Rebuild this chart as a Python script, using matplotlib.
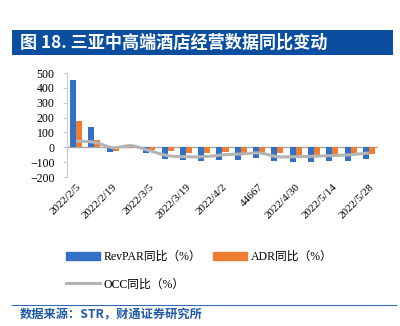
import numpy as np
import matplotlib.pyplot as plt
import matplotlib.transforms as mtransforms
from matplotlib.patches import Rectangle, Patch
from matplotlib.lines import Line2D
from matplotlib.path import Path
from matplotlib.patches import PathPatch

plt.rcParams['font.family'] = ['Liberation Serif', 'Noto Sans CJK SC']

# weekly data
labels = ['2022/2/5', '', '2022/2/19', '', '2022/3/5', '', '2022/3/19', '', '2022/4/2',
          '', '44667', '', '2022/4/30', '', '2022/5/14', '', '2022/5/28']
revpar = [450, 135, -30, 3, -40, -78, -85, -90, -85, -85, -74, -94, -100, -100, -90, -90, -78]
adr = [180, 50, -25, -5, -16, -27, -40, -38, -33, -40, -38, -40, -56, -56, -49, -45, -45]
occ = [42, 34, -2, 11, -22, -56, -63, -63, -51, -45, -38, -63, -63, -60, -56, -50, -38]

blue = '#3470c6'
orange = '#ed7d31'
gray = '#b4b4b4'

fig = plt.figure(figsize=(4, 3.26), dpi=100)

# title bar
fig.patches.append(Rectangle((0.03, 0.831), 0.953, 0.077, transform=fig.transFigure,
                             facecolor='#0a4ea0', edgecolor='none'))
fig.text(0.05, 0.869, '图 18. 三亚中高端酒店经营数据同比变动', color='white', fontsize=12.3,
         fontweight='bold', va='center', ha='left', family=['Noto Sans CJK SC'])

ax = fig.add_axes([0.1675, 0.457, 0.7775, 0.319])
x = np.arange(len(revpar))
w = 0.33
ax.bar(x - w / 2, revpar, w, color=blue, zorder=2)
ax.bar(x + w / 2, adr, w, color=orange, zorder=2)

# smoothed line through the points (Catmull-Rom as Bezier)
pts = np.column_stack([x, occ]).astype(float)
verts = [pts[0]]
codes = [Path.MOVETO]
for i in range(len(pts) - 1):
    p0 = pts[max(i - 1, 0)]
    p1 = pts[i]
    p2 = pts[i + 1]
    p3 = pts[min(i + 2, len(pts) - 1)]
    c1 = p1 + (p2 - p0) / 6
    c2 = p2 - (p3 - p1) / 6
    verts += [c1, c2, p2]
    codes += [Path.CURVE4] * 3
ax.add_patch(PathPatch(Path(verts, codes), facecolor='none', edgecolor=gray, lw=2.2, zorder=3))

ax.axhline(0, color='#a6a6a6', lw=1, zorder=1)
ax.set_xlim(-0.5, len(revpar) - 0.5)
ax.set_ylim(-200, 500)
ax.set_yticks(range(-200, 501, 100))
ax.set_xticks(x)
ax.set_xticklabels(labels, rotation=45, ha='right', rotation_mode='anchor', fontsize=8)
shift = mtransforms.ScaledTranslation(8 / 100, 0, fig.dpi_scale_trans)
for t in ax.get_xticklabels():
    t.set_transform(t.get_transform() + shift)
ax.tick_params(axis='x', length=0, pad=4)
ax.tick_params(axis='y', labelsize=8.5, length=3, color='#c8c8c8', pad=6)
for s in ['top', 'right', 'bottom']:
    ax.spines[s].set_visible(False)
ax.spines['left'].set_color('#c8c8c8')

handles = [Patch(color=blue), Line2D([], [], color=gray, lw=2.2), Patch(color=orange)]
names = ['RevPAR同比（%）', 'OCC同比（%）', 'ADR同比（%）']
fig.legend(handles, names, loc='upper left', bbox_to_anchor=(0.165, 0.23), ncol=2,
           frameon=False, fontsize=8.5, handlelength=2.9, handleheight=0.6,
           columnspacing=1.0, labelspacing=1.3, handletextpad=0.3,
           borderaxespad=0, borderpad=0)

# footer
fig.add_artist(Line2D([0.03, 0.99], [0.065, 0.065], color='#2f6bb5', lw=0.8,
                      transform=fig.transFigure))
fig.text(0.05, 0.035, '数据来源：STR，财通证券研究所', color='#1f5aa6', fontsize=8.8,
         fontweight='bold', va='center', ha='left', family=['Noto Sans CJK SC'])

fig.savefig('out.png', dpi=100)
